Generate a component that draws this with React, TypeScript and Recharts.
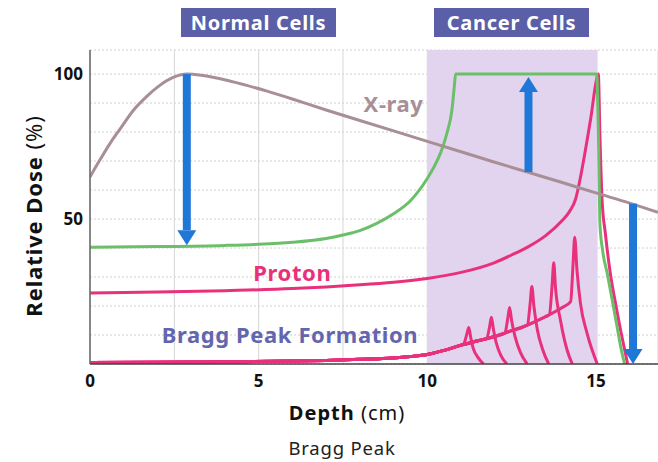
import {
  LineChart,
  Line,
  XAxis,
  YAxis,
  CartesianGrid,
  ReferenceArea,
  ReferenceLine,
  ReferenceDot,
} from "recharts";

const xTicks = [0, 2.5, 5, 7.5, 10, 12.5, 15];
const yTicks = [0, 10, 20, 30, 40, 50, 60, 70, 80, 90, 100];
const xLabelTicks = [0, 5, 10, 15];
const yLabelTicks = [50, 100];

const xray = [
  { x: 0, y: 64.5 }, { x: 0.3, y: 70.5 }, { x: 0.6, y: 76.2 }, { x: 0.9, y: 81.2 },
  { x: 1.3, y: 87.7 }, { x: 1.7, y: 92.5 }, { x: 2, y: 95.5 }, { x: 2.5, y: 99 },
  { x: 2.87, y: 100 }, { x: 3.3, y: 99.6 }, { x: 4.25, y: 97.3 }, { x: 5.25, y: 94.1 },
  { x: 6, y: 91.4 }, { x: 7, y: 87.6 }, { x: 8, y: 84 }, { x: 9, y: 80.4 },
  { x: 10, y: 76.8 }, { x: 11, y: 73.2 }, { x: 12, y: 69.6 }, { x: 13, y: 66.1 },
  { x: 14, y: 62.6 }, { x: 15, y: 59 }, { x: 16, y: 55.5 }, { x: 16.84, y: 52.3 },
];

// ideal dose (SOBP-like)
const ideal = [
  { x: 0, y: 40.3 }, { x: 2, y: 40.5 }, { x: 4, y: 40.9 }, { x: 5, y: 41.3 },
  { x: 6, y: 42 }, { x: 7, y: 43.3 }, { x: 7.5, y: 44.5 }, { x: 8, y: 46 },
  { x: 8.5, y: 48.5 }, { x: 9, y: 51.8 }, { x: 9.5, y: 56.3 }, { x: 9.7, y: 59 },
  { x: 10, y: 64 }, { x: 10.2, y: 68 }, { x: 10.4, y: 73 }, { x: 10.58, y: 79.5 },
  { x: 10.73, y: 87.6 }, { x: 10.8, y: 95.6 }, { x: 10.84, y: 100 }, { x: 15.02, y: 100 },
  { x: 15.08, y: 75 }, { x: 15.12, y: 48 }, { x: 15.2, y: 39 }, { x: 15.34, y: 31 },
  { x: 15.5, y: 21 }, { x: 15.64, y: 12 }, { x: 15.75, y: 5 }, { x: 15.85, y: 0 },
];

const proton = [
  { x: 0, y: 24.5 }, { x: 2, y: 24.8 }, { x: 4, y: 25.3 }, { x: 6, y: 26 },
  { x: 7, y: 26.6 }, { x: 8, y: 27.3 }, { x: 9, y: 28.2 }, { x: 10, y: 29.5 },
  { x: 11, y: 31.6 }, { x: 12, y: 35 }, { x: 12.5, y: 37.6 }, { x: 13, y: 40.5 },
  { x: 13.5, y: 44.2 }, { x: 14, y: 49.5 }, { x: 14.2, y: 52.3 }, { x: 14.4, y: 57 },
  { x: 14.5, y: 62 }, { x: 14.6, y: 68 }, { x: 14.75, y: 78 }, { x: 14.85, y: 85 },
  { x: 15, y: 97 }, { x: 15.07, y: 100 }, { x: 15.12, y: 78 }, { x: 15.18, y: 57 },
  { x: 15.28, y: 45 }, { x: 15.43, y: 31 }, { x: 15.58, y: 21 }, { x: 15.73, y: 11.7 },
  { x: 15.85, y: 5 }, { x: 15.94, y: 0 },
];

// shared entrance dose of the pristine peaks
const braggBase = [
  { x: 0, y: 0.5 }, { x: 2, y: 0.6 }, { x: 4, y: 0.75 }, { x: 6, y: 1 },
  { x: 7, y: 1.25 }, { x: 8, y: 1.6 }, { x: 9, y: 2.1 }, { x: 9.5, y: 2.6 },
  { x: 10, y: 3.3 }, { x: 10.5, y: 4.7 }, { x: 11, y: 6.5 }, { x: 11.5, y: 8 },
  { x: 12, y: 9.5 }, { x: 12.5, y: 11.5 }, { x: 13, y: 13.6 }, { x: 13.5, y: 16.3 },
  { x: 14, y: 19.5 }, { x: 14.25, y: 21.5 },
];

const braggSpikes = [
  [{ x: 11.08, y: 6.9 }, { x: 11.17, y: 10.2 }, { x: 11.23, y: 12.6 }, { x: 11.29, y: 9 }, { x: 11.36, y: 5.5 }, { x: 11.5, y: 2.3 }, { x: 11.67, y: 0 }],
  [{ x: 11.76, y: 8.8 }, { x: 11.85, y: 13 }, { x: 11.9, y: 16.1 }, { x: 11.96, y: 12 }, { x: 12.04, y: 7.5 }, { x: 12.18, y: 3 }, { x: 12.36, y: 0 }],
  [{ x: 12.3, y: 10.7 }, { x: 12.39, y: 16 }, { x: 12.44, y: 19.5 }, { x: 12.5, y: 15 }, { x: 12.6, y: 9.5 }, { x: 12.76, y: 4 }, { x: 12.96, y: 0 }],
  [{ x: 12.97, y: 13.5 }, { x: 13.05, y: 21 }, { x: 13.1, y: 26.7 }, { x: 13.16, y: 20 }, { x: 13.26, y: 12 }, { x: 13.42, y: 5 }, { x: 13.6, y: 0 }],
  [{ x: 13.62, y: 17 }, { x: 13.7, y: 27 }, { x: 13.75, y: 34.9 }, { x: 13.8, y: 26.5 }, { x: 13.95, y: 15 }, { x: 14.14, y: 5 }, { x: 14.3, y: 0 }],
  [{ x: 14.25, y: 21.5 }, { x: 14.32, y: 34 }, { x: 14.37, y: 43.7 }, { x: 14.44, y: 32 }, { x: 14.54, y: 21 }, { x: 14.74, y: 10.5 }, { x: 15.04, y: 0 }],
];

const arrows = [
  { x: 2.87, from: 100, to: 41 },
  { x: 13, from: 66.2, to: 99 },
  { x: 16.1, from: 55.3, to: 0 },
];

const notes = [
  { x: 9.0, y: 89.5, text: "X-ray", color: "#a88e95" },
  { x: 6.0, y: 31.4, text: "Proton", color: "#e8307b" },
  { x: 5.93, y: 10, text: "Bragg Peak Formation", color: "#6266ae" },
];

const PINK = "#e8307b";
const BLUE = "#1f78d8";

const Arrow = (props: any) => {
  const { x1, y1, x2, y2 } = props;
  const dir = y2 > y1 ? 1 : -1;
  const base = y2 - dir * 15;
  return (
    <g>
      <rect x={x1 - 4} y={Math.min(y1, base)} width={8} height={Math.abs(base - y1)} fill={BLUE} />
      <polygon points={`${x2 - 9.5},${base} ${x2 + 9.5},${base} ${x2},${y2}`} fill={BLUE} />
    </g>
  );
};

const XTick = ({ x, y, payload }: any) =>
  xLabelTicks.includes(payload.value) ? (
    <text x={x} y={y} dy="0.71em" textAnchor="middle" fontSize={17} fontWeight={700} fill="#111">
      {payload.value}
    </text>
  ) : null;

const YTick = ({ x, y, payload }: any) =>
  yLabelTicks.includes(payload.value) ? (
    <text x={x} y={y} dy="0.355em" textAnchor="end" fontSize={17} fontWeight={700} fill="#111">
      {payload.value}
    </text>
  ) : null;

const boxStyle: any = {
  position: "absolute",
  top: 8,
  height: 29,
  width: 155,
  background: "#5b5fa8",
  color: "#fff",
  fontWeight: 700,
  fontSize: 20,
  letterSpacing: 0.7,
  display: "flex",
  alignItems: "center",
  justifyContent: "center",
};

export default function App() {
  return (
    <div
      style={{
        position: "absolute",
        left: 0,
        top: 0,
        width: 658,
        height: 462,
        background: "#fff",
        fontFamily: "'Noto Sans', sans-serif",
      }}
    >
      <LineChart width={658} height={462} margin={{ top: 50, right: 0, bottom: 58, left: 0 }}>
        <ReferenceArea x1={10} x2={15.05} y1={0} y2={108.3} fill="#e2d4ef" fillOpacity={1} stroke="none" />
        <CartesianGrid vertical={false} stroke="#cfcfcf" strokeDasharray="2 2" />
        <CartesianGrid horizontal={false} stroke="#d6d6d6" />
        <XAxis
          type="number"
          dataKey="x"
          domain={[0, 16.84]}
          ticks={xTicks}
          allowDataOverflow
          tickLine={false}
          tickSize={0}
          tickMargin={11}
          tick={<XTick />}
          height={40}
          stroke="#444"
          strokeWidth={1.5}
        />
        <YAxis
          type="number"
          domain={[0, 108.3]}
          ticks={yTicks}
          allowDataOverflow
          tickLine={false}
          tickSize={0}
          tickMargin={7}
          tick={<YTick />}
          width={90}
          stroke="#666"
          strokeWidth={1.5}
        />
        {braggSpikes.map((spike, i) => (
          <Line
            key={`bragg-${i}`}
            data={braggBase.filter((p) => p.x < spike[0].x).concat(spike)}
            dataKey="y"
            type="monotone"
            stroke={PINK}
            strokeWidth={3}
            dot={false}
            isAnimationActive={false}
          />
        ))}
        <Line data={proton} dataKey="y" type="monotone" stroke={PINK} strokeWidth={3} dot={false} isAnimationActive={false} />
        <Line data={ideal} dataKey="y" type="monotone" stroke="#6cbf69" strokeWidth={3} dot={false} isAnimationActive={false} />
        <Line data={xray} dataKey="y" type="monotone" stroke="#a88e95" strokeWidth={3} dot={false} isAnimationActive={false} />
        {arrows.map((a, i) => (
          <ReferenceLine
            key={`arrow-${i}`}
            segment={[
              { x: a.x, y: a.from },
              { x: a.x, y: a.to },
            ]}
            shape={<Arrow />}
          />
        ))}
        {notes.map((n) => (
          <ReferenceDot
            key={n.text}
            x={n.x}
            y={n.y}
            r={0}
            fill="none"
            stroke="none"
            label={{ value: n.text, position: "center", fill: n.color, fontSize: 22, fontWeight: 700, letterSpacing: 0.6 }}
          />
        ))}
      </LineChart>
      <div style={{ ...boxStyle, left: 181 }}>Normal Cells</div>
      <div style={{ ...boxStyle, left: 434 }}>Cancer Cells</div>
      <div
        style={{
          position: "absolute",
          left: 33,
          top: 216,
          transform: "translate(-50%, -50%) rotate(-90deg)",
          whiteSpace: "nowrap",
          fontSize: 22,
          letterSpacing: 0.9,
          color: "#111",
        }}
      >
        <b>Relative Dose</b> (%)
      </div>
      <div
        style={{
          position: "absolute",
          left: 347,
          top: 412,
          transform: "translate(-50%, -50%)",
          whiteSpace: "nowrap",
          fontSize: 20,
          letterSpacing: 1,
          color: "#111",
        }}
      >
        <b>Depth</b> (cm)
      </div>
      <div
        style={{
          position: "absolute",
          left: 342,
          top: 448,
          transform: "translate(-50%, -50%)",
          whiteSpace: "nowrap",
          fontSize: 18.5,
          letterSpacing: 0.8,
          color: "#222",
          lineHeight: "22px",
        }}
      >
        Bragg Peak
      </div>
    </div>
  );
}
